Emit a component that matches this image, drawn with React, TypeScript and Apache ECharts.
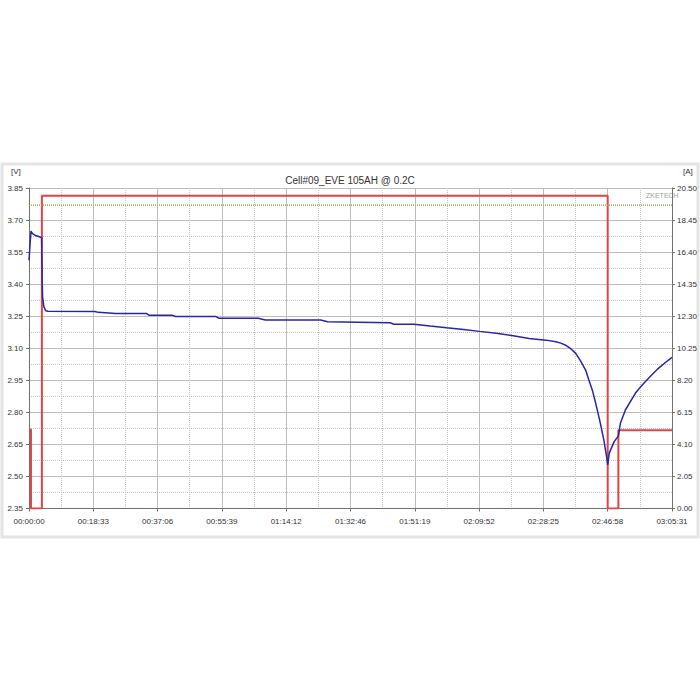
import React, { useEffect, useRef } from 'react';
import * as echarts from 'echarts';

const chartTitle = 'Cell#09_EVE 105AH @ 0.2C';

const timeLabels = [
  '00:00:00', '00:18:33', '00:37:06', '00:55:39', '01:14:12', '01:32:46',
  '01:51:19', '02:09:52', '02:28:25', '02:46:58', '03:05:31',
];
const voltLabels = ['2.35', '2.50', '2.65', '2.80', '2.95', '3.10', '3.25', '3.40', '3.55', '3.70', '3.85'];
const currentLabels = ['0.00', '2.05', '4.10', '6.15', '8.20', '10.25', '12.30', '14.35', '16.40', '18.45', '20.50'];

// voltage trace: time (s) and volts
const voltTime = [
  0, 34, 60, 103, 218, 224, 228, 235, 258, 292, 330, 1140, 1200, 1500, 2030, 2075, 2470, 2540,
  3230, 3290, 3970, 4090, 5050, 5170, 5690, 6250, 6320, 6665, 6940, 7231, 7523, 7798, 8090,
  8382, 8657, 8949, 9121, 9207, 9293, 9379, 9465, 9551, 9636, 9688, 9751, 9808, 9865, 9894,
  9951, 10000, 10018, 10045, 10131, 10203, 10238, 10324, 10496, 10582, 10668, 10788, 10896,
  11011, 11131,
];
const voltValue = [
  3.512, 3.648, 3.636, 3.629, 3.618, 3.5, 3.43, 3.34, 3.294, 3.275, 3.273, 3.272, 3.268, 3.263,
  3.263, 3.255, 3.255, 3.249, 3.249, 3.24, 3.24, 3.232, 3.232, 3.224, 3.222, 3.219, 3.212,
  3.212, 3.204, 3.196, 3.188, 3.179, 3.17, 3.159, 3.146, 3.138, 3.13, 3.124, 3.114, 3.098,
  3.076, 3.04, 2.998, 2.955, 2.905, 2.845, 2.78, 2.745, 2.671, 2.59, 2.554, 2.609, 2.663, 2.69,
  2.749, 2.811, 2.889, 2.918, 2.943, 2.977, 3.006, 3.032, 3.057,
];

// current trace: time (s) and amps
const curTime = [0, 34, 34, 223, 223, 10018, 10018, 10203, 10203, 11131];
const curValue = [5.06, 5.06, 0, 0, 20.0, 20.0, 0, 0, 5.0, 5.0];

const upperLimitV = 3.775;

const TIME_MAX = 11131;
const TIME_STEP = 1113.1;

export default function App() {
  const ref = useRef<HTMLDivElement>(null);
  useEffect(() => {
    const chart = echarts.init(ref.current!, null, { renderer: 'svg' });
    const font = 'Liberation Sans, Arial, sans-serif';
    const axisColor = '#707070';
    chart.setOption({
      animation: false,
      backgroundColor: '#ffffff',
      textStyle: { fontFamily: font },
      title: {
        text: chartTitle,
        left: 'center',
        top: 170,
        textStyle: { fontSize: 10, fontWeight: 'normal', color: '#333', fontFamily: font },
      },
      grid: { left: 29, right: 23, top: 188, bottom: 191.5, containLabel: false },
      xAxis: {
        type: 'value',
        min: 0,
        max: TIME_MAX,
        interval: TIME_STEP,
        offset: 3,
        axisLine: { show: true, lineStyle: { color: axisColor, width: 1 } },
        axisTick: { show: true, length: 3, lineStyle: { color: axisColor } },
        axisLabel: {
          fontSize: 8,
          color: '#333',
          margin: 6,
          fontFamily: font,
          formatter: (v: number) => timeLabels[Math.round(v / TIME_STEP)] ?? '',
        },
        splitLine: { show: true, lineStyle: { color: '#bdbdbd', width: 1 } },
        minorTick: { show: false, splitNumber: 2 },
        minorSplitLine: { show: true, lineStyle: { color: '#c4c4c4', type: 'dotted', width: 1 } },
      },
      yAxis: [
        {
          type: 'value',
          position: 'left',
          min: 2.35,
          max: 3.85,
          interval: 0.15,
          offset: 3,
          axisLine: { show: true, lineStyle: { color: axisColor, width: 1 } },
          axisTick: { show: true, length: 3, lineStyle: { color: axisColor } },
          axisLabel: {
            fontSize: 8,
            color: '#333',
            margin: 3,
            fontFamily: font,
            formatter: (v: number) => voltLabels[Math.round((v - 2.35) / 0.15)] ?? '',
          },
          splitLine: { show: true, lineStyle: { color: '#bdbdbd', width: 1 } },
          minorTick: { show: false, splitNumber: 2 },
          minorSplitLine: { show: true, lineStyle: { color: '#c4c4c4', type: 'dotted', width: 1 } },
        },
        {
          type: 'value',
          position: 'right',
          min: 0,
          max: 20.5,
          interval: 2.05,
          axisLine: { show: true, lineStyle: { color: axisColor, width: 1 } },
          axisTick: { show: true, length: 3, lineStyle: { color: axisColor } },
          axisLabel: {
            fontSize: 8,
            color: '#333',
            margin: 5,
            fontFamily: font,
            formatter: (v: number) => currentLabels[Math.round(v / 2.05)] ?? '',
          },
          splitLine: { show: false },
        },
      ],
      graphic: [
        {
          type: 'rect',
          shape: { x: 2, y: 164, width: 696, height: 373 },
          style: { fill: 'none', stroke: '#e4e4e4', lineWidth: 3 },
          silent: true,
          z: -10,
        },
        {
          type: 'text',
          x: 11,
          y: 167,
          style: { text: '[V]', fill: '#333', font: `8px ${font}` },
        },
        {
          type: 'text',
          x: 683,
          y: 167,
          style: { text: '[A]', fill: '#333', font: `8px ${font}` },
        },
        {
          type: 'text',
          x: 646,
          y: 192,
          style: { text: 'ZKETECH', fill: '#a0a0a0', font: `7px ${font}` },
        },
      ],
      series: [
        {
          name: 'Current',
          type: 'line',
          yAxisIndex: 1,
          showSymbol: false,
          symbol: 'none',
          data: curTime.map((t, i) => [t, curValue[i]]),
          lineStyle: { color: '#e04444', width: 2 },
          z: 2,
        },
        {
          name: 'Voltage',
          type: 'line',
          yAxisIndex: 0,
          showSymbol: false,
          symbol: 'none',
          data: voltTime.map((t, i) => [t, voltValue[i]]),
          lineStyle: { color: '#2626a8', width: 1.5 },
          z: 3,
          markLine: {
            silent: true,
            symbol: 'none',
            label: { show: false },
            lineStyle: { color: '#92c43a', type: 'dotted', width: 1, opacity: 1 },
            data: [{ yAxis: upperLimitV }],
          },
        },
      ],
    });
    return () => chart.dispose();
  }, []);
  return (
    <div
      ref={ref}
      style={{ position: 'absolute', left: 0, top: 0, width: 700, height: 700, background: '#fff' }}
    />
  );
}
